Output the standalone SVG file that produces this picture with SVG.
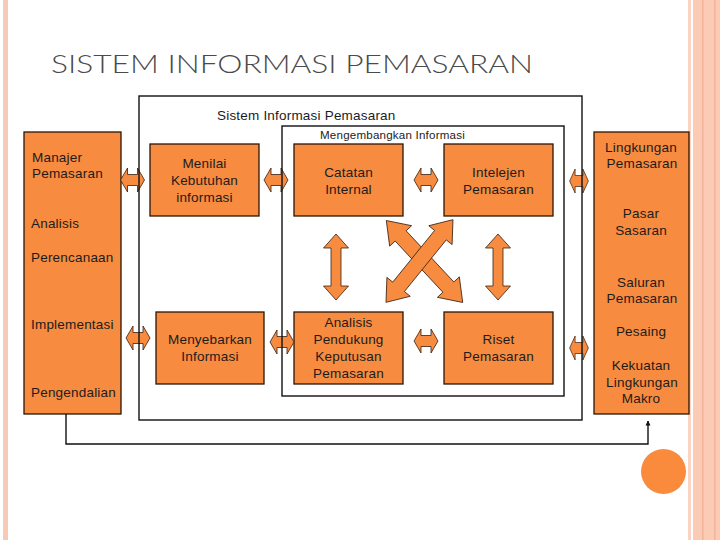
<svg xmlns="http://www.w3.org/2000/svg" width="720" height="540" viewBox="0 0 720 540">
<style>
.box{fill:#f78b3f;stroke:#2a1606;stroke-width:1.3}
.frame{fill:none;stroke:#111;stroke-width:1.4}
.t{font-family:"Liberation Sans",Arial,sans-serif;font-size:13.5px;fill:#1c1c1c;letter-spacing:0.2px}
.c{text-anchor:middle}
.arr{fill:#f78b3f;stroke:#3a2010;stroke-width:0.8;stroke-linejoin:miter}
</style>
<defs>
<path id="ha" d="M-12,0 L-5,-12 L-5,-5.5 L5,-5.5 L5,-12 L12,0 L5,12 L5,5.5 L-5,5.5 L-5,12 Z"/>
<path id="va" d="M0,-33 L12.5,-19 L5,-19 L5,19 L12.5,19 L0,33 L-12.5,19 L-5,19 L-5,-19 L-12.5,-19 Z"/>
<path id="da" d="M-56,0 L-35,-15 L-35,-7.5 L35,-7.5 L35,-15 L56,0 L35,15 L35,7.5 L-35,7.5 L-35,15 Z"/>
<marker id="tip" viewBox="0 0 10 10" refX="9" refY="5" markerWidth="5" markerHeight="6" orient="auto" markerUnits="userSpaceOnUse"><path d="M0,0 L10,5 L0,10 Z" fill="#111"/></marker>
</defs>
<rect width="720" height="540" fill="#fff"/>
<g id="border">
<rect x="3" y="0" width="5" height="540" fill="#f8c9b5"/>
<rect x="688" y="0" width="3" height="540" fill="#fbd3c2"/>
<rect x="693" y="0" width="27" height="540" fill="#fbcbb6"/>
<rect x="702" y="0" width="1.5" height="540" fill="#f2b49b"/>
<rect x="714" y="0" width="1.5" height="540" fill="#f2b49b"/>
</g>
<text x="51" y="73" font-family="Lato,'Open Sans',sans-serif" font-weight="300" font-size="25" fill="#4a4a4a" textLength="482" lengthAdjust="spacingAndGlyphs">SISTEM INFORMASI PEMASARAN</text>
<g id="manajer">
<rect class="box" x="24" y="132" width="97" height="282"/>
<text class="t" x="32" y="162">Manajer</text>
<text class="t" x="32" y="178">Pemasaran</text>
<text class="t" x="31" y="228">Analisis</text>
<text class="t" x="31" y="262">Perencanaan</text>
<text class="t" x="31" y="329">Implementasi</text>
<text class="t" x="31" y="397">Pengendalian</text>
</g>
<g id="lingkungan">
<rect class="box" x="594" y="132" width="95" height="282"/>
<text class="t c" x="641" y="152">Lingkungan</text>
<text class="t c" x="642" y="168">Pemasaran</text>
<text class="t c" x="641" y="218">Pasar</text>
<text class="t c" x="641" y="235">Sasaran</text>
<text class="t c" x="641" y="287">Saluran</text>
<text class="t c" x="642" y="303">Pemasaran</text>
<text class="t c" x="641" y="336">Pesaing</text>
<text class="t c" x="641" y="370">Kekuatan</text>
<text class="t c" x="642" y="387">Lingkungan</text>
<text class="t c" x="641" y="403">Makro</text>
</g>
<g id="menilai">
<rect class="box" x="150" y="144" width="109" height="72"/>
<text class="t c" x="204.5" y="168">Menilai</text>
<text class="t c" x="204.5" y="185">Kebutuhan</text>
<text class="t c" x="204.5" y="202">informasi</text>
</g>
<g id="catatan">
<rect class="box" x="294" y="144" width="109" height="72"/>
<text class="t c" x="348.5" y="177">Catatan</text>
<text class="t c" x="348.5" y="194">Internal</text>
</g>
<g id="intelejen">
<rect class="box" x="444" y="144" width="109" height="72"/>
<text class="t c" x="498.5" y="177">Intelejen</text>
<text class="t c" x="498.5" y="194">Pemasaran</text>
</g>
<g id="menyebarkan">
<rect class="box" x="156" y="312" width="108" height="72"/>
<text class="t c" x="210" y="344">Menyebarkan</text>
<text class="t c" x="210" y="361">Informasi</text>
</g>
<g id="analisis">
<rect class="box" x="294" y="312" width="109" height="72"/>
<text class="t c" x="348.5" y="327">Analisis</text>
<text class="t c" x="348.5" y="344">Pendukung</text>
<text class="t c" x="348.5" y="361">Keputusan</text>
<text class="t c" x="348.5" y="378">Pemasaran</text>
</g>
<g id="riset">
<rect class="box" x="444" y="312" width="109" height="72"/>
<text class="t c" x="498.5" y="344">Riset</text>
<text class="t c" x="498.5" y="361">Pemasaran</text>
</g>
<g id="connectors">
<use href="#ha" class="arr" transform="translate(132.5,180)"/>
<use href="#ha" class="arr" transform="translate(276,180)"/>
<use href="#ha" class="arr" transform="translate(426,180)"/>
<use href="#ha" class="arr" transform="translate(579,181) scale(0.78,1)"/>
<use href="#ha" class="arr" transform="translate(138,338)"/>
<use href="#ha" class="arr" transform="translate(282,342)"/>
<use href="#ha" class="arr" transform="translate(426,341)"/>
<use href="#ha" class="arr" transform="translate(579,348) scale(0.78,1)"/>
<use href="#va" class="arr" transform="translate(336,267)"/>
<use href="#va" class="arr" transform="translate(498,267)"/>
<use href="#da" class="arr" transform="translate(424.5,261.5) rotate(47)"/>
<use href="#da" class="arr" transform="translate(419.5,261) rotate(129) scale(0.95,1)"/>
<polyline points="66,414 66,444 648,444 648,421" fill="none" stroke="#111" stroke-width="1.4" marker-end="url(#tip)"/>
</g>
<g id="sim-frame">
<rect class="frame" x="139" y="96" width="443" height="324"/>
<text class="t" x="217" y="120">Sistem Informasi Pemasaran</text>
</g>
<g id="mengembangkan-frame">
<rect class="frame" x="282" y="126" width="282" height="270"/>
<text class="t" x="320" y="139" style="font-size:11px" textLength="145" lengthAdjust="spacingAndGlyphs">Mengembangkan Informasi</text>
</g>
<ellipse cx="663.5" cy="471.5" rx="22.5" ry="22.5" fill="#fa8a3c"/>
</svg>
